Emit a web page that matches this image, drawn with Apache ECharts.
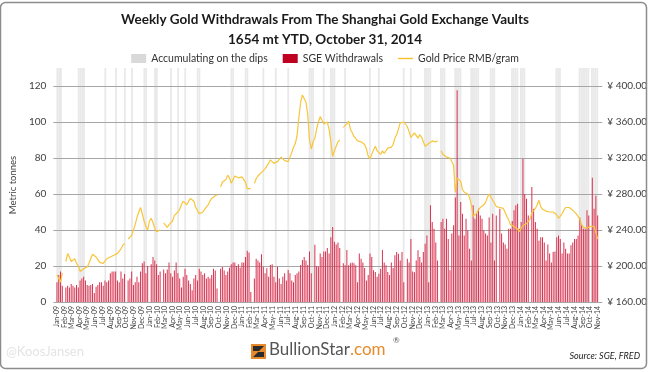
<!DOCTYPE html>
<html><head><meta charset="utf-8">
<script src="https://cdn.jsdelivr.net/npm/echarts@6/dist/echarts.min.js"></script>
<style>html,body{margin:0;padding:0;background:#fff}#c{width:650px;height:372px}</style>
</head><body><div id="c"></div>
<script>
// ---- data (weekly, first week ends 2009-01-02) ----
const firstWeekEnd = [2009, 0, 2];
const withdrawals2009 = [11,15,17,9,null,8,9,8,10,9,8,9.5,8,12,13,14,12,9.5,9,9.5,10,5,8.5,9.5,11,11,9,12,11,12,16,17,17,17,12,11,17,13,15.5,null,12,13,17,9.5,11,14,11,17,21.5,22.5,16,20];
const withdrawals2010 = [null,21,25,23,21,15,17,null,18,16,18,22,16,14,17.5,22,16,13,8,14,18.5,15,12,10,6.5,13,15,12,18.5,17,15,16,13,14,13,15,18.5,17.5,7.5,null,18.5,19.5,17.5,15,17,19,21,22,22,20,21,19,22];
const withdrawals2011 = [22,25,28.5,27.5,5.5,null,13,24,23,22,26.5,19.6,16,18.7,14,20.5,21,14,11,19.6,13,10,14,16,12,17.8,16,12,11,15,16,17,20.5,23.3,25,23,20.5,28,16,null,31.8,20,19.6,27,25,28,28,30,27,36,41.7,33.5];
const withdrawals2012 = [32,33,30,null,21.5,20.4,28.9,20.4,21.5,22,21.5,20.4,11,27,24,22,18.9,12,15,27,25,17.6,16.7,14,15.7,18.5,28.9,22,20.4,16.7,15,22,18.9,26,27.8,26.8,23,27.8,11,null,24,22,35,17,16.5,23,28.7,25,22,27.8,32.4,37];
const withdrawals2013 = [11,53.7,44.4,40.7,33,23,null,44.4,46.3,40.7,46.3,35,17.6,38,42.6,58,117.6,37,55.6,49,37,46.3,39.8,29.6,23,53.7,46.3,49,51.8,48,46.3,39.8,38,37,47,33,49,23,48,null,51.8,38,33,32,29.6,40.7,40.7,45,51,53.7,54.6,40.7];
const withdrawals2014 = [44.4,79.6,60,57.4,48,null,63.9,51.8,44.4,40.7,34,36,36,33,23,32,27,22,27.8,28,36,37,35,27,33,29.6,27,27,31.5,33,35,35,37,47,42.6,40.7,40.7,51,48,null,69,51.8,59,48];

const price2009 = [190,186,182,192,null,205,214,210,205,207,208,203,200,194,196,197,198,199,203,208,213,215,210,207,204,204,203,205,208,209,210,211,212,210,214,216,219,223,225,null,230,232,234,240,246,254,260,265,258,250,244,240];
const price2010 = [250,253,248,242,238,236,240,null,248,246,243,246,245,250,256,254,260,263,268,272,270,268,272,275,276,272,265,262,258,257,260,263,264,268,272,275,277,278,279,null,288,293,292,296,301,298,292,296,300,299,298,297,299];
const price2011 = [298,293,286,284,286,null,292,297,300,302,304,306,308,310,314,318,319,314,315,316,318,321,319,317,315,316,318,326,332,336,345,365,382,390,391,382,368,340,330,338,342,352,360,366,362,358,356,360,352,338,322,328];
const price2012 = [330,338,340,null,354,356,358,361,352,348,344,342,339,340,338,336,335,330,322,319,324,329,333,328,327,324,328,325,327,331,330,332,335,342,346,352,359,361,360,358,355,349,343,343,348,346,342,346,343,338,333,335];
const price2013 = [336,338,339,337,338,339,null,328,324,322,321,320,320,318,312,282,298,299,294,285,282,281,280,276,268,255,256,259,262,265,264,268,271,276,280,278,273,270,266,266,265,265,264,263,255,251,246,245,244,243,241,238];
const price2014 = [242,245,246,247,248,252,259,261,264,268,273,266,263,262,261,262,260,259,260,259,257,253,254,258,262,265,267,265,263,262,260,258,256,252,246,243,241,242,243,244,245,244,245,230];

// weeks flagged "Accumulating on the dips" (index of week from first week)
const dipWeeks = [0,1,2,12,13,14,15,27,33,38,42,49,50,55,56,64,68,72,79,80,98,99,106,107,116,123,130,142,143,144,150,154,155,156,162,176,181,195,199,207,208,209,210,216,217,218,224,225,226,227,233,234,235,236,237,244,245,246,256,257,258,259,261,262,263,281,282,283,294,295,296,297,298,299,301,302,303,304];

const leftTicks = {min: 0, max: 130, step: 20};
const rightTicks = {min: 160, max: 420, step: 40};
const monthNames = ['Jan','Feb','Mar','Apr','May','Jun','Jul','Aug','Sep','Oct','Nov','Dec'];

const withdrawals = [].concat(withdrawals2009, withdrawals2010, withdrawals2011, withdrawals2012, withdrawals2013, withdrawals2014);
const prices = [].concat(price2009, price2010, price2011, price2012, price2013, price2014);
const DAY = 86400000;
const t0 = Date.UTC(firstWeekEnd[0], firstWeekEnd[1], firstWeekEnd[2]);
const weeks = withdrawals.map((_, i) => t0 + i * 7 * DAY);

const xMin = Date.UTC(2008, 11, 20, 12);
const xMax = Date.UTC(2014, 10, 16, 8);
const FONT = 'Lato, "Open Sans", sans-serif';

const chart = echarts.init(document.getElementById('c'), null, {renderer: 'canvas'});
const xBase = {
  type: 'time', min: xMin, max: xMax, splitNumber: 75,
  minInterval: 30 * DAY, maxInterval: 30 * DAY
};
chart.setOption({
  animation: false,
  useUTC: true,
  backgroundColor: '#fff',
  title: {
    text: 'Weekly Gold Withdrawals From The Shanghai Gold Exchange Vaults\n1654 mt YTD, October 31, 2014',
    left: 'center', top: 5,
    textStyle: {fontFamily: FONT, fontSize: 13.5, fontWeight: 'bold', color: '#1a1a1a', lineHeight: 20}
  },
  legend: {
    top: 48, left: 'center', itemGap: 15, itemWidth: 15, itemHeight: 9,
    textStyle: {fontFamily: FONT, fontSize: 10.5, color: '#333'},
    data: [
      {name: 'Accumulating on the dips', icon: 'rect', itemStyle: {color: '#d9d9d9'}},
      {name: 'SGE Withdrawals', icon: 'rect', itemStyle: {color: '#c00020'}},
      {name: 'Gold Price RMB/gram', icon: 'path://M0,4 L16,4 L16,5.5 L0,5.5 Z', itemStyle: {color: '#f6c12b'}}
    ]
  },
  grid: {left: 44, right: 43, top: 68, bottom: 70},
  xAxis: [
    Object.assign({}, xBase, {
      axisLine: {show: false}, axisTick: {show: false}, splitLine: {show: false},
      axisLabel: {
        rotate: 90, fontSize: 7, color: '#404040', margin: 4, fontFamily: FONT, hideOverlap: false,
        formatter: function (v) {
          const d = new Date(v);
          if (d.getUTCDate() !== 1) return '';
          return monthNames[d.getUTCMonth()] + '-' + String(d.getUTCFullYear()).slice(2);
        }
      }
    }),
    Object.assign({}, xBase, {show: false})
  ],
  yAxis: [
    {
      type: 'value', min: leftTicks.min, max: leftTicks.max, interval: leftTicks.step,
      name: 'Metric tonnes', nameLocation: 'middle', nameGap: 26,
      nameTextStyle: {fontFamily: FONT, fontSize: 9.5, color: '#404040'},
      axisLine: {show: false}, axisTick: {show: false},
      axisLabel: {fontFamily: FONT, fontSize: 10, color: '#404040', margin: 7,
        formatter: v => (v > 125 ? '' : String(v))},
      splitLine: {show: true, showMaxLine: false, lineStyle: {color: '#a6a6a6', width: 1}}
    },
    {
      type: 'value', position: 'right', min: rightTicks.min, max: rightTicks.max, interval: rightTicks.step,
      axisLine: {show: false}, axisTick: {show: false}, splitLine: {show: false},
      axisLabel: {fontFamily: FONT, fontSize: 10, color: '#404040', margin: 5,
        formatter: v => (v > 410 ? '' : '\u00a5 ' + v.toFixed(2))}
    }
  ],
  series: [
    {
      name: 'Accumulating on the dips', type: 'bar', xAxisIndex: 1, yAxisIndex: 0, z: -1,
      barWidth: 1.8, itemStyle: {color: '#e9e9e9'},
      data: dipWeeks.map(i => [weeks[i], leftTicks.max])
    },
    {
      name: 'SGE Withdrawals', type: 'bar', xAxisIndex: 0, yAxisIndex: 0,
      barWidth: 1, itemStyle: {color: '#d83350'},
      data: weeks.map((t, i) => [t, withdrawals[i]])
    },
    {
      name: 'Gold Price RMB/gram', type: 'line', xAxisIndex: 0, yAxisIndex: 1,
      showSymbol: false, symbol: 'none', connectNulls: false,
      lineStyle: {color: '#f7c63a', width: 1.2}, itemStyle: {color: '#f7c63a'},
      data: weeks.map((t, i) => [t, prices[i]])
    }
  ],
  graphic: [
    {type: 'rect', silent: true, z: 100, shape: {x: 0.5, y: 2.5, width: 646, height: 366, r: 5},
      style: {fill: 'none', stroke: '#8c8c8c', lineWidth: 1.5}},
    {type: 'text', left: 6, top: 345, style: {text: '@KoosJansen', font: '13px ' + FONT, fill: '#e4e4e4'}},
    {type: 'rect', shape: {x: 251, y: 344, width: 15, height: 15}, style: {fill: '#e8892b'}},
    {type: 'polygon', shape: {points: [[253,346],[264,346],[258,352],[264,352],[264,357],[253,357],[259,351],[253,351]]}, style: {fill: '#2b2b2b'}},
    {type: 'text', left: 269, top: 341, style: {
      text: '{a|BullionStar}{b|.com}',
      rich: {a: {fontFamily: FONT, fontSize: 17, fill: '#555555', color: '#555555'}, b: {fontFamily: FONT, fontSize: 17, fill: '#e8892b', color: '#e8892b'}},
      font: '17px ' + FONT}},
    {type: 'text', left: 393, top: 336, style: {text: '\u00ae', font: '8px ' + FONT, fill: '#555'}},
    {type: 'text', right: 10, top: 352, style: {text: 'Source: SGE, FRED', font: 'italic 9px ' + FONT, fill: '#222'}}
  ]
});
</script></body></html>
